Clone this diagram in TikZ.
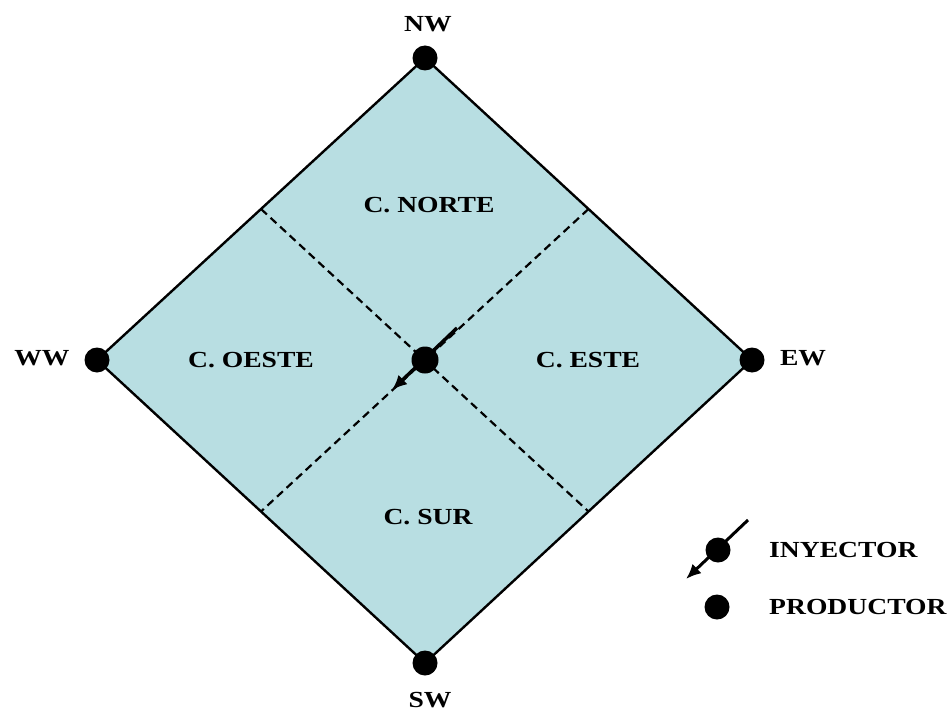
\documentclass[tikz,border=0pt]{standalone}
\usepackage{fontspec}
\setmainfont[FakeStretch=1.2]{Liberation Serif}
\usetikzlibrary{calc,arrows.meta}
\definecolor{fillblue}{RGB}{184,222,226}
\begin{document}
\begin{tikzpicture}[x=1pt,y=-1pt,
  dot/.style={circle,fill=black,inner sep=0pt,minimum size=25pt},
  lbl/.style={inner sep=0pt,font=\fontsize{23}{26}\selectfont\bfseries},
  edge/.style={line width=2.4pt,line join=round},
  sep/.style={line width=2.2pt,dash pattern=on 8pt off 5pt},
  inj/.style={line width=3.5pt,-{Latex[length=15pt,width=13pt]}}]
\useasboundingbox (0,0) rectangle (952,714);
\coordinate (N) at (425,58);
\coordinate (E) at (752,360);
\coordinate (S) at (425,663);
\coordinate (W) at (97,360);
\coordinate (C) at (425,360);
\fill[fillblue] (N) -- (E) -- (S) -- (W) -- cycle;
\draw[sep] ($(N)!0.5!(W)$) -- ($(E)!0.5!(S)$);
\draw[sep] ($(N)!0.5!(E)$) -- ($(W)!0.5!(S)$);
\draw[edge] (N) -- (E) -- (S) -- (W) -- cycle;
\node[dot] (nw) at (N) {};
\node[dot] (ew) at (E) {};
\node[dot] (sw) at (S) {};
\node[dot] (ww) at (W) {};
\node[dot,minimum size=27pt] (cc) at (C) {};
\coordinate (ca) at (457,328);
\coordinate (cb) at (392,390);
\draw[inj] (ca) -- (cb);
\node[lbl] (tnw) at (428,24) {NW};
\node[lbl] (tsw) at (430,700) {SW};
\node[lbl] (tww) at (42,358) {WW};
\node[lbl] (tew) at (803,358) {EW};
\node[lbl] (tn) at (429,205) {C. NORTE};
\node[lbl] (to) at (251,360) {C. OESTE};
\node[lbl] (te) at (588,360) {C. ESTE};
\node[lbl] (ts) at (428,517) {C. SUR};
% legend
\node[dot] (li) at (718,550) {};
\coordinate (la) at (748,520);
\coordinate (lb) at (686,579);
\draw[inj,line width=3pt] (la) -- (lb);
\node[dot] (lp) at (717,607) {};
\node[lbl,anchor=west] (tinj) at (769,550) {INYECTOR};
\node[lbl,anchor=west] (tprod) at (769,607) {PRODUCTOR};
\end{tikzpicture}
\end{document}
